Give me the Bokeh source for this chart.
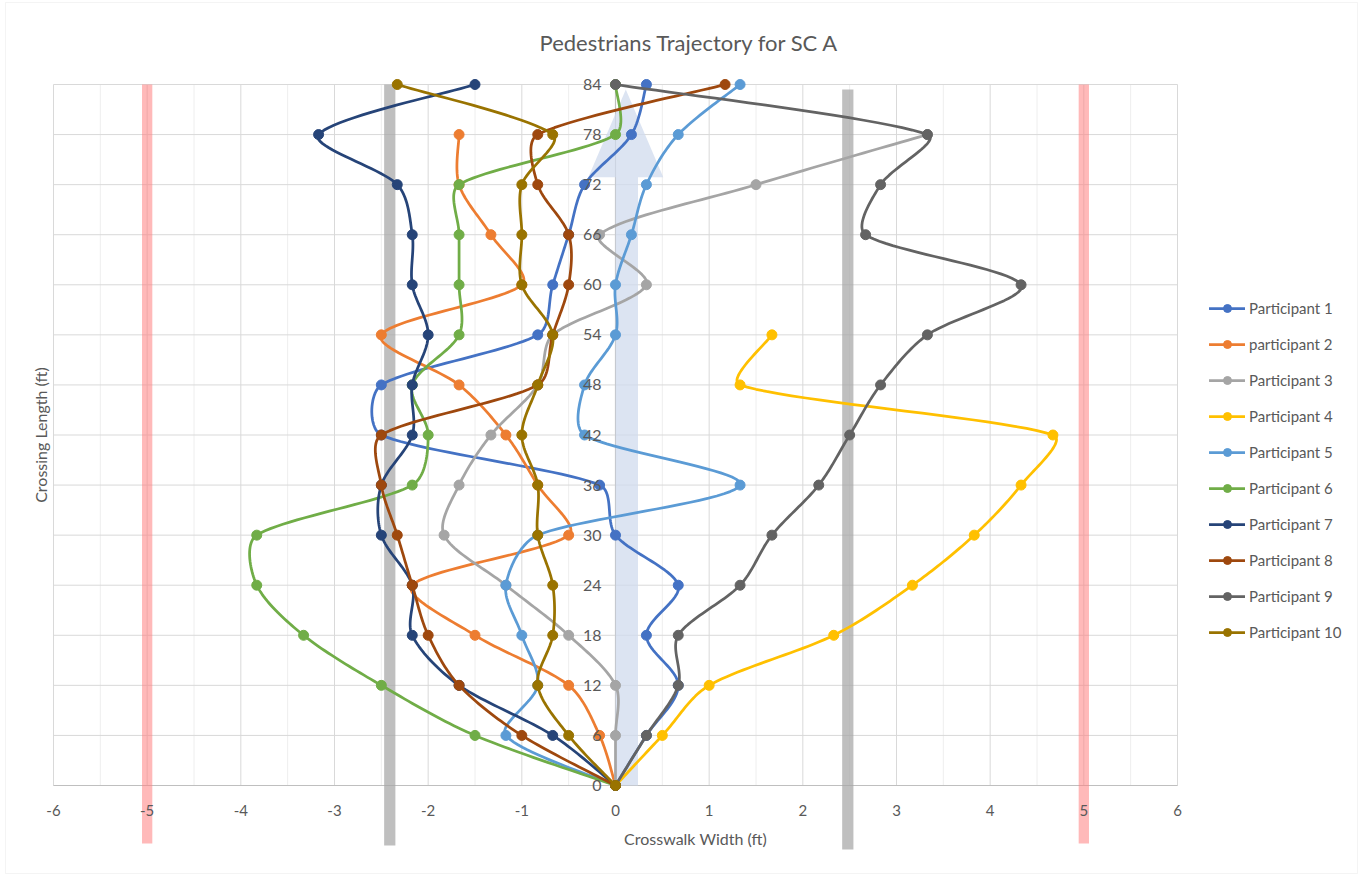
import numpy as np
from bokeh.plotting import figure
from bokeh.models import (ColumnDataSource, Legend, LegendItem, BoxAnnotation, Range1d)
from bokeh.core.properties import value
from bokeh.embed import file_html
from bokeh.resources import INLINE

# ---------------------------------------------------------------- data
crossing_length = [0, 6, 12, 18, 24, 30, 36, 42, 48, 54, 60, 66, 72, 78, 84]

participant_names = ["Participant 1", "participant 2", "Participant 3", "Participant 4",
                     "Participant 5", "Participant 6", "Participant 7", "Participant 8",
                     "Participant 9", "Participant 10"]

# lateral position (ft) at each crossing-length station; None = not recorded
participant_1 = [0, 0.33, 0.67, 0.33, 0.67, 0, -0.17, -2.5, -2.5, -0.83, -0.67, -0.5, -0.33, 0.17, 0.33]
participant_2 = [0, -0.17, -0.5, -1.5, -2.17, -0.5, -0.83, -1.17, -1.67, -2.5, -1.0, -1.33, -1.67, -1.67, None]
participant_3 = [0, 0, 0, -0.5, -1.17, -1.83, -1.67, -1.33, -0.83, -0.67, 0.33, -0.17, 1.5, 3.33, None]
participant_4 = [0, 0.5, 1.0, 2.33, 3.17, 3.83, 4.33, 4.67, 1.33, 1.67, None, None, None, None, None]
participant_5 = [0, -1.17, -0.83, -1.0, -1.17, -0.83, 1.33, -0.33, -0.33, 0, 0, 0.17, 0.33, 0.67, 1.33]
participant_6 = [0, -1.5, -2.5, -3.33, -3.83, -3.83, -2.17, -2.0, -2.17, -1.67, -1.67, -1.67, -1.67, 0, 0]
participant_7 = [0, -0.67, -1.67, -2.17, -2.17, -2.5, -2.5, -2.17, -2.17, -2.0, -2.17, -2.17, -2.33, -3.17, -1.5]
participant_8 = [0, -1.0, -1.67, -2.0, -2.17, -2.33, -2.5, -2.5, -0.83, -0.67, -0.5, -0.5, -0.83, -0.83, 1.17]
participant_9 = [0, 0.33, 0.67, 0.67, 1.33, 1.67, 2.17, 2.5, 2.83, 3.33, 4.33, 2.67, 2.83, 3.33, 0]
participant_10 = [0, -0.5, -0.83, -0.67, -0.67, -0.83, -0.83, -1.0, -0.83, -0.67, -1.0, -1.0, -1.0, -0.67, -2.33]

series = [participant_1, participant_2, participant_3, participant_4, participant_5,
          participant_6, participant_7, participant_8, participant_9, participant_10]

colors = ["#4472C4", "#ED7D31", "#A5A5A5", "#FFC000", "#5B9BD5",
          "#70AD47", "#264478", "#9E480E", "#636363", "#997300"]

x_ticks = [-6, -5, -4, -3, -2, -1, 0, 1, 2, 3, 4, 5, 6]
x_tick_labels = ["-6", "-5", "-4", "-3", "-2", "-1", "0", "1", "2", "3", "4", "5", "6"]
x_minor = [-5.5, -4.5, -3.5, -2.5, -1.5, -0.5, 0.5, 1.5, 2.5, 3.5, 4.5, 5.5]
y_ticks = crossing_length
y_tick_labels = [str(v) for v in y_ticks]

# reference lines: curb limits and lane markers
curb_edges = [-5.0, 5.0]
lane_markers = [-2.41, 2.48]

FONT = "Lato"
TEXT = "#595959"

# canvas layout: the plot area (-6..6, 0..84) occupies pixels x 53..1177, y 84..785
W, H = 1364, 876
PX_X = (1177 - 53) / 12.0
PX_Y = (785 - 84) / 84.0
X0 = -6 - 53 / PX_X
X1 = 6 + (W - 1177) / PX_X
Y1 = 84 + 84 / PX_Y
Y0 = -(H - 785) / PX_Y
XMIN, XMAX = x_ticks[0], x_ticks[-1]
YMIN, YMAX = y_ticks[0], y_ticks[-1]


def px_to_x(px):
    return X0 + px / PX_X


def px_to_y(py):
    return Y1 - py / PX_Y


def smooth_path(xs, ys, steps=24):
    """Bezier smoothing through the points, split at gaps.

    Tangents follow Catmull-Rom (1/6 of the neighbour chord) and are shortened
    next to short segments, computed in screen space."""
    out_x, out_y = [], []
    runs, cur = [], []
    for x, y in zip(xs, ys):
        if x is None:
            if cur:
                runs.append(cur)
            cur = []
        else:
            cur.append((x * PX_X, y * PX_Y))
    if cur:
        runs.append(cur)
    t = np.linspace(0, 1, steps)
    for run in runs:
        pts = np.array(run, dtype=float)
        n = len(pts)
        for i in range(n - 1):
            p0 = pts[i - 1] if i > 0 else pts[i]
            p1 = pts[i]
            p2 = pts[i + 1]
            p3 = pts[i + 2] if i + 2 < n else pts[i + 1]
            d01 = np.linalg.norm(p1 - p0)
            d12 = np.linalg.norm(p2 - p1)
            d23 = np.linalg.norm(p3 - p2)
            f1 = (1 / 6.0) * min(1.0, 2 * d12 / (d01 + d12)) if d01 + d12 > 0 else 0
            f2 = (1 / 6.0) * min(1.0, 2 * d12 / (d12 + d23)) if d12 + d23 > 0 else 0
            b1 = p1 + (p2 - p0) * f1
            b2 = p2 - (p3 - p1) * f2
            seg = ((1 - t) ** 3)[:, None] * p1 + (3 * (1 - t) ** 2 * t)[:, None] * b1 \
                + (3 * (1 - t) * t ** 2)[:, None] * b2 + (t ** 3)[:, None] * p2
            if i > 0:
                seg = seg[1:]
            out_x.extend((seg[:, 0] / PX_X).tolist())
            out_y.extend((seg[:, 1] / PX_Y).tolist())
        out_x.append(np.nan)
        out_y.append(np.nan)
    return out_x, out_y


p = figure(width=W, height=H,
           x_range=Range1d(X0, X1), y_range=Range1d(Y0, Y1),
           output_backend="svg", toolbar_location=None,
           min_border=0, min_border_left=0, min_border_right=0,
           min_border_top=0, min_border_bottom=0)
p.outline_line_color = None
p.background_fill_color = "white"
p.border_fill_color = "white"
p.xaxis.visible = False
p.yaxis.visible = False
p.xgrid.visible = False
p.ygrid.visible = False

# gridlines limited to the plot area
p.segment(x0=x_minor, y0=[YMIN] * len(x_minor), x1=x_minor, y1=[YMAX] * len(x_minor),
          line_color="#EEEEEE", line_width=1, level="underlay")
p.segment(x0=x_ticks, y0=[YMIN] * len(x_ticks), x1=x_ticks, y1=[YMAX] * len(x_ticks),
          line_color="#D9D9D9", line_width=1, level="underlay")
p.segment(x0=[XMIN] * len(y_ticks), y0=y_ticks, x1=[XMAX] * len(y_ticks), y1=y_ticks,
          line_color="#D9D9D9", line_width=1, level="underlay")

# axis lines crossing at the origin
p.segment(x0=[XMIN, 0], y0=[0, YMIN], x1=[XMAX, 0], y1=[0, YMAX],
          line_color="#BFBFBF", line_width=1.2, level="underlay")

# walking-direction arrow
arrow_x = [0, 0.24, 0.24, 0.51, 0.11, -0.29, 0, 0]
arrow_y = [0, 0, 72.9, 72.9, 83.4, 72.9, 72.9, 0]
p.patch(arrow_x, arrow_y, fill_color="#D0DBEE", fill_alpha=0.75,
        line_color=None, level="underlay")

# curb edges and lane markers
for cx in curb_edges:
    p.add_layout(BoxAnnotation(left=cx - 0.055, right=cx + 0.055, top=84, bottom=px_to_y(843),
                               fill_color="#FF8080", fill_alpha=0.55,
                               line_color=None, level="underlay"))
p.add_layout(BoxAnnotation(left=lane_markers[0] - 0.06, right=lane_markers[0] + 0.06,
                           top=84, bottom=px_to_y(845), fill_color="#A6A6A6", fill_alpha=0.72,
                           line_color=None, level="underlay"))
p.add_layout(BoxAnnotation(left=lane_markers[1] - 0.06, right=lane_markers[1] + 0.06,
                           top=83.4, bottom=px_to_y(849), fill_color="#A6A6A6", fill_alpha=0.72,
                           line_color=None, level="underlay"))

# chart frame
p.add_layout(BoxAnnotation(left=px_to_x(5), right=px_to_x(1357),
                           top=px_to_y(2), bottom=px_to_y(873),
                           fill_color=None, line_color="#D9D9D9", line_width=1,
                           level="underlay"))

# trajectories
items = []
for name, xs, color in zip(participant_names, series, colors):
    sx, sy = smooth_path(xs, crossing_length)
    ln = p.line(sx, sy, line_color=color, line_width=2.75,
                line_join="round", line_cap="round")
    src = ColumnDataSource(dict(
        x=[np.nan if v is None else v for v in xs], y=crossing_length))
    pt = p.scatter("x", "y", source=src, size=10, marker="circle",
                   fill_color=color, line_color=color)
    items.append(LegendItem(label=name, renderers=[ln, pt]))

# tick labels: y labels along x = 0, x labels under y = 0
p.text(x=[0] * len(y_ticks), y=y_ticks, text=y_tick_labels,
       x_offset=-14, text_align="right", text_baseline="middle",
       text_font=value(FONT), text_font_size="16px", text_color=TEXT)
p.text(x=x_ticks, y=[0] * len(x_ticks), text=x_tick_labels,
       y_offset=25, text_align="center", text_baseline="middle",
       text_font=value(FONT), text_font_size="15px", text_color=TEXT)

# titles
p.text(x=[px_to_x(689)], y=[px_to_y(42)], text=["Pedestrians Trajectory for SC A"],
       text_align="center", text_baseline="middle",
       text_font=value(FONT), text_font_size="22px", text_color=TEXT)
p.text(x=[px_to_x(695)], y=[px_to_y(838)], text=["Crosswalk Width (ft)"],
       text_align="center", text_baseline="middle",
       text_font=value(FONT), text_font_size="16px", text_color=TEXT)
p.text(x=[px_to_x(40)], y=[42], text=["Crossing Length (ft)"], angle=np.pi / 2,
       text_align="center", text_baseline="middle",
       text_font=value(FONT), text_font_size="16px", text_color=TEXT)

legend = Legend(items=items, location=(1209, H - 642), margin=0, padding=10,
                glyph_width=36, glyph_height=20, label_height=20, spacing=16,
                label_standoff=4, border_line_color=None, background_fill_alpha=0,
                label_text_font=FONT, label_text_font_size="15px",
                label_text_color=TEXT)
p.add_layout(legend)

open("out.html", "w").write(file_html(p, INLINE))
